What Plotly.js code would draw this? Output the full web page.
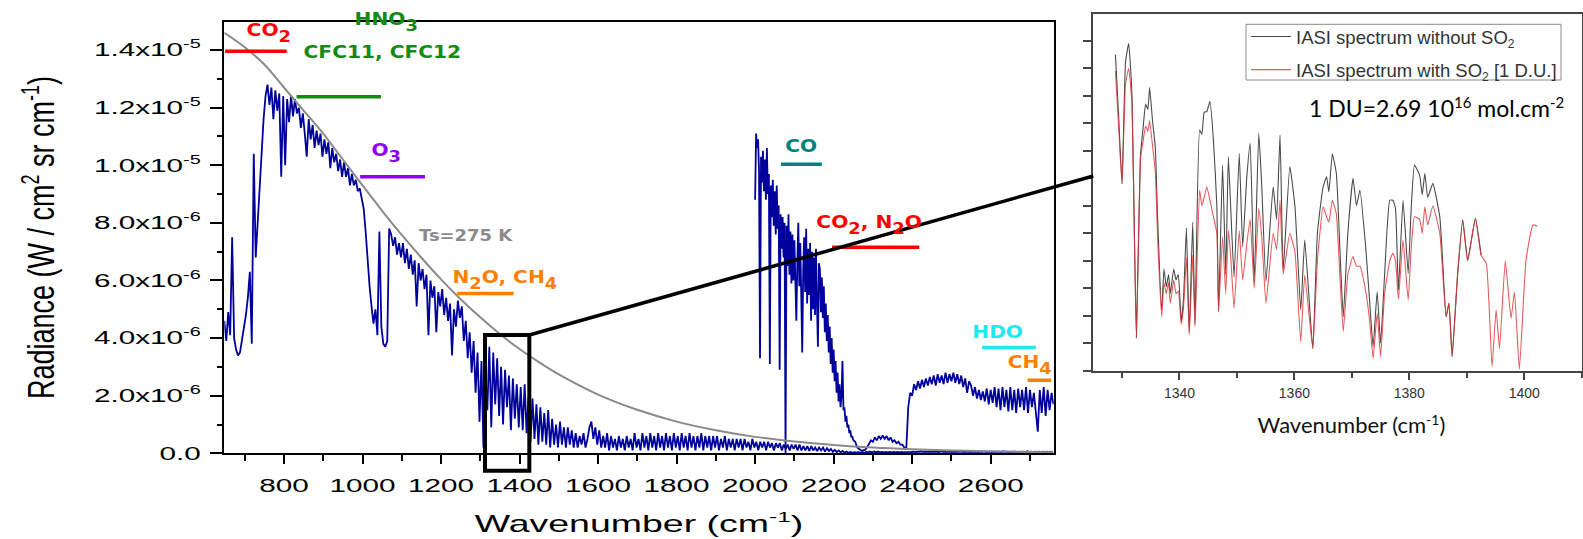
<!DOCTYPE html>
<html><head><meta charset="utf-8">
<script src="https://cdn.plot.ly/plotly-3.0.1.min.js"></script>
<style>html,body{margin:0;padding:0;background:#fff;}#chart{width:1583px;height:539px;}</style>
</head><body><div id="chart"></div>
<script>
// ---------- DATA ----------
// Main IASI spectrum (radiance in 1e-6 W / cm2 sr cm-1), sampled every 5 cm-1 from 648 cm-1
const spectrumStart = 648, spectrumStep = 5;
const radianceThermal = [
 4.6,3.9,4.9,4.1,7.5,4.0,3.6,3.4,3.5,3.9,
 4.3,4.8,5.4,6.3,3.8,10.4,6.8,8.0,9.2,10.6,
 11.6,12.4,12.8,12.1,12.7,11.6,12.6,11.9,12.5,9.6,
 12.4,10.0,12.3,11.5,12.4,11.7,12.3,11.8,12.0,11.3,
 11.8,11.1,10.3,11.6,10.9,11.4,10.6,11.2,10.7,11.1,
 10.3,10.9,10.4,10.8,9.9,10.6,10.1,10.4,9.8,10.2,
 9.6,10.1,9.6,9.9,9.3,9.7,9.3,9.5,9.1,9.2,
 8.9,8.5,7.7,6.6,5.8,5.1,4.5,5.0,4.1,7.7,
 4.4,3.8,3.7,3.9,7.8,7.6,7.2,7.5,6.9,7.3,
 6.8,7.3,6.6,7.1,6.4,6.9,6.2,6.7,5.1,6.6,
 6.0,6.4,5.7,6.2,4.1,6.0,5.4,5.8,4.2,5.6,
 5.1,5.7,4.8,5.4,4.6,5.2,3.4,5.0,4.4,5.3,
 4.7,5.1,3.9,4.6,3.3,4.2,2.8,3.9,2.1,3.5,
 1.1,3.2,0.2,2.7,1.5,3.7,0.9,3.5,1.7,3.3,
 1.3,3.0,1.0,2.9,1.6,2.7,0.8,2.6,1.2,2.4,
 0.9,2.3,0.8,2.4,0.7,2.0,0.4,1.9,0.5,1.7,
 0.3,1.6,0.4,1.4,0.3,1.5,0.2,1.2,0.3,1.0,
 0.2,1.1,0.3,0.9,0.2,0.9,0.3,0.8,0.2,0.7,
 0.2,0.6,0.3,0.7,0.2,0.5,0.9,1.1,0.5,0.9,
 0.3,0.8,0.2,0.6,0.2,0.7,0.1,0.6,0.2,0.5,
 0.1,0.6,0.2,0.5,0.1,0.6,0.2,0.5,0.1,0.7,
 0.2,0.5,0.1,0.7,0.2,0.6,0.1,0.7,0.2,0.6,
 0.1,0.7,0.2,0.6,0.1,0.7,0.2,0.6,0.1,0.7,
 0.2,0.6,0.1,0.7,0.2,0.6,0.1,0.7,0.2,0.6,
 0.1,0.6,0.2,0.7,0.1,0.6,0.2,0.6,0.1,0.6,
 0.2,0.6,0.1,0.5,0.2,0.6,0.1,0.5,0.2,0.5,
 0.1,0.5,0.2,0.5,0.1,0.5,0.2,0.4,0.1,0.5,
 0.2,0.4,0.1,0.4,0.2,0.4,0.1,0.4,0.2,0.35,
 0.1,0.35,0.2,0.35,0.1,0.3,0.15,0.3,0.1,0.3,
 0.15,0.3,0.1,0.3,0.1,0.25,0.1,0.25,0.08,0.25,
 0.1,0.2,0.08,0.2,0.1,0.2,0.06,0.18,0.08,0.15,
 0.05,0.12,0.04,0.1,0.03,0.08,0.02,0.06,0.02,0.05,
 0.02,0.04,0.02,0.04,0.02,0.05,0.02,0.05,0.03,0.06,
 0.03,0.06,0.03,0.06,0.03,0.05,0.03,0.05,0.03,0.05,
 0.03,0.05,0.03,0.05,0.03,0.05,0.03,0.04,0.03,0.04,
 0.04,0.06,0.04,0.06,0.05,0.07,0.04,0.06,0.05,0.06,
 0.04,0.06,0.05,0.06,0.04,0.07,0.05,0.06,0.04,0.06,
 0.05,0.06,0.04,0.06,0.05,0.07,0.04,0.06,0.05,0.06,
 0.04,0.06,0.05,0.06,0.04,0.06,0.05,0.07,0.04,0.06,
 0.05,0.06,0.04,0.06,0.05,0.06,0.04,0.07,0.05,0.06,
 0.04,0.06,0.05,0.06,0.04,0.06,0.05,0.06,0.04,0.07,
 0.05,0.06,0.04,0.06,0.05,0.06,0.04,0.06,0.05,0.06,
 0.04,0.06,0.05
];
// Band 3, CO region (2000-2250 cm-1), every 2.5 cm-1
const coBandStart = 2000, coBandStep = 2.5;
const radianceCoBand = [
 8.8,11.1,10.6,10.9,9.8,3.3,10.3,9.4,10.5,9.1,
 10.2,8.8,10.6,9.0,9.7,3.1,9.3,8.2,9.5,7.9,
 9.1,7.6,9.3,7.8,8.6,2.9,8.3,7.1,8.2,6.8,
 8.0,0.0,7.9,6.5,8.3,6.2,7.7,5.9,7.6,6.0,
 7.4,5.4,4.6,6.6,8.0,5.8,7.3,5.5,3.5,6.4,
 7.5,5.6,7.8,5.2,7.1,5.5,7.3,4.6,7.0,5.0,
 6.8,4.8,7.1,5.2,3.7,6.6,6.4,4.9,6.1,4.7,
 5.8,4.2,5.2,3.9,4.8,3.5,4.4,3.1,4.0,2.8,
 3.6,2.5,3.2,2.1,2.8,1.8,2.4,1.6,2.0,3.2,
 1.5,1.6,1.1,1.3,0.9,1.0,0.7,0.8,0.55,0.6,
 0.45
];
// Band 3, rest (2250-2760 cm-1), every 5 cm-1
const band3Start = 2250, band3Step = 5;
const radianceBand3 = [
 0.45,0.4,0.2,0.15,0.1,0.1,0.12,0.2,0.35,0.45,
 0.4,0.55,0.45,0.6,0.5,0.62,0.5,0.6,0.45,0.55,
 0.4,0.45,0.35,0.4,0.3,0.3,0.2,0.15,1.6,2.1,
 2.0,2.4,2.2,2.5,2.25,2.55,2.3,2.6,2.35,2.65,
 2.4,2.7,2.35,2.75,2.45,2.7,2.4,2.8,2.45,2.75,
 2.5,2.8,2.45,2.75,2.4,2.7,2.3,2.6,2.1,2.5,
 2.35,2.0,2.3,1.9,2.2,1.85,2.15,1.8,2.25,1.7,
 2.2,1.75,2.3,1.6,2.25,1.5,2.3,1.6,2.2,1.45,
 2.3,1.5,2.2,1.4,2.25,1.6,2.2,1.5,2.3,1.4,
 2.2,1.6,2.1,1.3,0.75,2.2,1.4,2.3,1.3,2.2,
 1.5,2.1,1.7
];
// Blackbody curve Ts=275 K, 1e-6 units
const planckWn  = [648,700,750,800,850,900,950,1000,1050,1100,1150,1200,1250,1300,1350,1400,1450,1500,1600,1700,1800,1900,2000,2100,2200,2300,2400,2500,2600,2700,2760];
const planckRad = [14.6,14.1,13.5,12.7,11.9,11.1,10.2,9.30,8.42,7.58,6.79,6.04,5.35,4.72,4.14,3.62,3.16,2.74,2.04,1.51,1.10,0.80,0.57,0.41,0.29,0.20,0.14,0.098,0.068,0.047,0.038];

// Inset: zoom 1328-1403 cm-1 (arbitrary radiance units)
const insetWn = [1328.85,1329.4,1330.0,1330.6,1331.15,1331.7,1332.5,1333.2,1333.7,1334.1,
 1334.5,1334.8,1335.3,1335.8,1336.2,1336.9,1337.3,1337.7,1338.1,1338.4,
 1339.0,1339.4,1339.8,1340.3,1340.7,1341.2,1341.7,1342.3,1342.7,1343.5,
 1343.9,1344.3,1344.75,1345.3,1345.9,1346.5,1346.8,1347.5,1348.05,1348.5,
 1348.9,1349.5,1350.4,1351.0,1351.7,1352.3,1353.0,1353.8,1354.3,1355.05,
 1356.3,1356.9,1357.5,1358.05,1359.2,1360.1,1361.1,1361.8,1363.2,1364.0,
 1365.0,1365.6,1366.0,1366.6,1367.3,1367.9,1368.5,1369.3,1370.2,1370.8,
 1371.4,1372.4,1373.1,1373.7,1374.4,1375.0,1375.7,1376.6,1377.15,1377.6,
 1378.1,1378.9,1379.8,1380.35,1380.9,1381.8,1382.25,1382.7,1383.2,1384.1,
 1385.3,1385.8,1386.4,1386.9,1387.45,1388.4,1389.3,1390.15,1391.5,1392.5,
 1393.4,1394.4,1395.1,1395.7,1396.7,1397.7,1398.3,1399.15,1400.3,1401.5,1402.3];
const insetNoSO2 = [11.5,9.3,6.8,11.2,11.9,10.2,1.2,7.8,8.9,9.7,
 9.5,10.3,9.1,8.1,5.5,2.2,3.7,3.05,3.5,2.8,
 3.7,3.3,3.5,1.8,2.6,5.2,1.4,5.4,1.7,8.75,
 8.6,9.4,9.42,9.8,8.4,6.0,2.15,7.48,3.5,7.78,
 6.0,3.4,7.9,4.5,7.0,8.27,3.24,8.63,6.8,3.24,
 6.69,5.5,8.57,3.66,7.42,5.96,2.21,4.75,0.81,5.0,
 6.69,7.05,6.5,7.88,7.18,4.5,1.96,5.0,7.0,6.0,
 6.57,4.51,2.5,0.87,2.87,1.0,3.5,6.2,6.2,5.9,
 2.93,6.2,3.54,6.0,7.48,7.1,6.4,7.18,6.3,6.81,
 5.6,4.0,1.96,2.45,0.51,3.5,5.48,4.0,5.54,4.2];
const insetWithSO2 = [10.9,8.9,6.8,10.4,11.0,9.8,1.2,7.7,8.4,8.9,
 8.7,9.1,8.2,7.2,4.8,1.96,3.2,2.8,3.2,2.45,
 3.3,2.8,2.9,1.7,2.3,4.1,1.3,4.2,1.6,6.57,
 6.0,6.3,6.69,6.2,5.6,5.0,2.15,4.87,2.8,5.1,
 4.2,2.27,5.1,3.3,4.6,5.5,3.0,5.9,4.9,2.45,
 5.0,4.4,6.2,3.5,5.0,4.3,1.05,3.48,0.81,4.0,
 5.96,5.6,5.4,6.2,5.7,3.5,1.42,3.5,4.15,3.8,
 3.8,2.9,1.8,0.45,2.09,0.51,2.8,4.0,4.28,4.0,
 2.6,4.75,2.57,4.5,5.6,5.5,5.0,5.96,5.3,6.0,
 5.0,3.6,1.96,2.45,0.51,3.5,5.48,4.0,5.54,4.2,
 3.9,0.15,2.21,0.81,4.0,1.9,2.87,0.05,4.0,5.3,5.25];

// Tick labels
const yTickVals = [0,2e-6,4e-6,6e-6,8e-6,1e-5,1.2e-5,1.4e-5];
const yTickText = ['0.0','2.0x10<sup>-6</sup>','4.0x10<sup>-6</sup>','6.0x10<sup>-6</sup>','8.0x10<sup>-6</sup>','1.0x10<sup>-5</sup>','1.2x10<sup>-5</sup>','1.4x10<sup>-5</sup>'];
const yMinorVals = [1e-6,3e-6,5e-6,7e-6,9e-6,1.1e-5,1.3e-5];
const xMinorVals = [700,900,1100,1300,1500,1700,1900,2100,2300,2500,2700];
const insetMinorX = [1330,1350,1370,1390,1410];
const insetYTicks = [0,1,2,3,4,5,6,7,8,9,10,11,12];
const seriesNames = ['IASI spectrum without SO<sub>2</sub>','IASI spectrum with SO<sub>2</sub> [1 D.U.]'];

// ---------- BUILD ----------
const E = 1e-6;
const grid = (arr,start,step)=>arr.map((v,i)=>start+i*step);
const scaled = arr=>arr.map(v=>v*E);
// superscript / subscript as single shifted spans
function shiftTags(s,supSize,supShift,subSize,subShift){
 return s.replace(/<sup>(.*?)<\/sup>/g,'<span style="font-size:'+supSize+'px;baseline-shift:'+supShift+'px">$1</span>')
         .replace(/<sub>(.*?)<\/sub>/g,'<span style="font-size:'+(subSize||supSize)+'px;baseline-shift:'+(subShift||-4)+'px">$1</span>');
}

const BLUE = '#00009c';
const blueLine = {color:BLUE,width:1.8};
const traces = [
 {x:grid(radianceThermal,spectrumStart,spectrumStep),y:scaled(radianceThermal),type:'scatter',mode:'lines',line:blueLine,showlegend:false,hoverinfo:'skip'},
 {x:grid(radianceCoBand,coBandStart,coBandStep),y:scaled(radianceCoBand),type:'scatter',mode:'lines',line:blueLine,showlegend:false,hoverinfo:'skip'},
 {x:grid(radianceBand3,band3Start,band3Step),y:scaled(radianceBand3),type:'scatter',mode:'lines',line:blueLine,showlegend:false,hoverinfo:'skip'},
 {x:planckWn,y:scaled(planckRad),type:'scatter',mode:'lines',line:{color:'#8a8a8a',width:2,shape:'spline'},showlegend:false,hoverinfo:'skip'},
 {x:insetWn.slice(0,insetNoSO2.length),y:insetNoSO2,type:'scatter',mode:'lines',name:shiftTags(seriesNames[0],12,0,12,-4),
  line:{color:'#4a4a4a',width:1.1,shape:'spline',smoothing:0.4},xaxis:'x2',yaxis:'y2',legendgroup:'a'},
 {x:insetWn,y:insetWithSO2,type:'scatter',mode:'lines',name:shiftTags(seriesNames[1],12,0,12,-4),
  line:{color:'rgba(225,50,50,0.8)',width:1.1,shape:'spline',smoothing:0.4},xaxis:'x2',yaxis:'y2',legendgroup:'b'}
];

const W=1583,H=539;
const px = v=>v/W, py = v=>(H-v)/H;
const tickFont = {family:'Liberation Sans, Arial, sans-serif',size:18,color:'#000'};
const annFont = (c,s)=>({family:'DejaVu Sans, sans-serif',size:s||18,color:c,weight:'bold'});
const lbl = t=>shiftTags(t,16,0,16,-6);

function bar(x0,x1,y,c){return {type:'line',xref:'x',yref:'y',x0:x0,x1:x1,y0:y*E,y1:y*E,line:{color:c,width:3.5}};}
function lab(t,x,y,c,s){return {text:lbl(t),x:x,y:y*E,xref:'x',yref:'y',showarrow:false,font:annFont(c,s),xanchor:'center',yanchor:'middle'};}

const layout = {
 width:W,height:H,margin:{l:0,r:0,t:0,b:0},paper_bgcolor:'#fff',plot_bgcolor:'#fff',
 font:{family:'Liberation Sans, Arial, sans-serif',color:'#000'},
 xaxis:{domain:[px(224.3),px(1053.7)],range:[648,2760.5],showgrid:false,zeroline:false,
   showline:true,mirror:true,linecolor:'#000',linewidth:2,ticks:'outside',ticklen:9,tickwidth:2,tickcolor:'#000',
   tickmode:'linear',tick0:800,dtick:200,tickfont:tickFont,ticklabelstandoff:6,
   minor:{tickmode:'array',tickvals:xMinorVals,ticks:'outside',ticklen:6,tickwidth:2,tickcolor:'#000',showgrid:false},
   title:{text:shiftTags('Wavenumber (cm<sup>-1</sup>)',15,10),font:{family:'Liberation Sans, Arial, sans-serif',size:23,color:'#000'},standoff:21}},
 yaxis:{domain:[py(453.3),py(21.7)],range:[0,1.4985e-5],showgrid:false,zeroline:false,
   showline:true,mirror:true,linecolor:'#000',linewidth:2,ticks:'outside',ticklen:12,tickwidth:2,tickcolor:'#000',
   tickmode:'array',tickvals:yTickVals,ticktext:yTickText.map(t=>shiftTags(t,12,8)),tickfont:tickFont,ticklabelstandoff:6,
   minor:{tickmode:'array',tickvals:yMinorVals,ticks:'outside',ticklen:5,tickwidth:2,tickcolor:'#000',showgrid:false},
   title:{text:shiftTags('Radiance (W / cm<sup>2</sup> sr cm<sup>-1</sup>)',18,11),font:{family:'Liberation Sans, Arial, sans-serif',size:27,color:'#000'},standoff:74}},
 xaxis2:{domain:[px(1093.3),px(1581.7)],range:[1325,1410],anchor:'y2',showgrid:false,zeroline:false,
   showline:true,mirror:true,linecolor:'#454545',linewidth:2,ticks:'outside',ticklen:7,tickwidth:1.5,tickcolor:'#454545',
   tickmode:'linear',tick0:1340,dtick:20,tickfont:{family:'Liberation Sans, Arial, sans-serif',size:14,color:'#333'},ticklabelstandoff:1,
   minor:{tickmode:'array',tickvals:insetMinorX,ticks:'outside',ticklen:5,tickwidth:1.5,tickcolor:'#454545',showgrid:false},
   title:{text:'&nbsp;&nbsp;&nbsp;&nbsp;&nbsp;'+shiftTags('Wavenumber (cm<sup>-1</sup>)',14,8),font:{family:'Lato, sans-serif',size:22,color:'#111'},standoff:18}},
 yaxis2:{domain:[py(370.7),py(14)],range:[0,12.97],anchor:'x2',showgrid:false,zeroline:false,
   showline:true,mirror:true,linecolor:'#454545',linewidth:2,ticks:'outside',ticklen:8,tickwidth:1.5,tickcolor:'#454545',
   tickmode:'array',tickvals:insetYTicks,showticklabels:false},
 showlegend:true,
 legend:{x:px(1246),y:py(18),xanchor:'left',yanchor:'top',bgcolor:'rgba(0,0,0,0)',borderwidth:0,itemwidth:40,
   font:{family:'Liberation Sans, Arial, sans-serif',size:18.5,color:'#333'},traceorder:'grouped',tracegroupgap:6},
 shapes:[
  bar(650,807,13.96,'#ff0000'),
  bar(832,1047,12.38,'#138a13'),
  bar(994,1159,9.60,'#8f00ff'),
  bar(1241,1385,5.55,'#ff8000'),
  bar(2066,2170,10.04,'#008080'),
  bar(2196,2418,7.15,'#ff0000'),
  bar(2578,2715,3.67,'#1ee8f0'),
  bar(2694,2754,2.54,'#ff8000'),
  {type:'rect',xref:'x',yref:'paper',x0:1312,x1:1424.9,y0:py(470.7),y1:py(335),line:{color:'#000',width:4},fillcolor:'rgba(0,0,0,0)'},
  {type:'line',xref:'paper',yref:'paper',x0:px(529.3),y0:py(335),x1:px(1093.3),y1:py(176),line:{color:'#000',width:3.5}},
  {type:'rect',xref:'paper',yref:'paper',x0:px(1246),x1:px(1561),y0:py(80),y1:py(24.3),line:{color:'#8a8a8a',width:1},fillcolor:'#fff'}
 ],
 annotations:[
  lab('CO<sub>2</sub>',762,14.6,'#ff0000'),
  {text:lbl('HNO<sub>3</sub>'),x:1062,xref:'x',y:py(21),yref:'paper',showarrow:false,font:annFont('#138a13'),xanchor:'center',yanchor:'middle'},
  lab('CFC11, CFC12',1052,13.94,'#138a13'),
  lab('O<sub>3</sub>',1061,10.45,'#8f00ff'),
  lab('Ts=275 K',1264,7.55,'#8a8a8a',16),
  lab('N<sub>2</sub>O, CH<sub>4</sub>',1363,6.05,'#ff8000'),
  lab('CO',2117,10.68,'#008080'),
  lab('CO<sub>2</sub>, N<sub>2</sub>O',2290,7.95,'#ff0000'),
  lab('HDO',2618,4.22,'#1ee8f0'),
  lab('CH<sub>4</sub>',2699,3.1,'#ff8000'),
  {text:shiftTags('1 DU=2.69 10<sup>16</sup> mol.cm<sup>-2</sup>',15,9),xref:'paper',yref:'paper',x:px(1436.7),y:py(107),showarrow:false,
   font:{family:'Lato, sans-serif',size:23,color:'#000'},xanchor:'center',yanchor:'middle'}
 ]
};

function stretchX(sel,s){
 document.querySelectorAll(sel).forEach(function(t){
  var x=parseFloat(t.getAttribute('x'))||0;
  var tr=t.getAttribute('transform')||'';
  t.setAttribute('transform',tr+' translate('+x+',0) scale('+s+',1) translate('+(-x)+',0)');
 });
}
function stretchRotated(sel,s){
 document.querySelectorAll(sel).forEach(function(t){
  var x=parseFloat(t.getAttribute('x'))||0, y=parseFloat(t.getAttribute('y'))||0;
  var tr=t.getAttribute('transform')||'';
  t.setAttribute('transform',tr+' translate('+x+','+y+') scale(1,'+s+') translate('+(-x)+','+(-y)+')');
 });
}
Plotly.newPlot('chart',traces,layout,{displayModeBar:false}).then(function(){
 stretchX('.xtick text',1.65);
 stretchX('.ytick text',1.65);
 stretchX('.xtitle',1.63);
 stretchRotated('.ytitle',1.4);
 for(var i=0;i<10;i++) stretchX('.annotation[data-index="'+i+'"] text.annotation-text',1.12);
});
</script></body></html>
